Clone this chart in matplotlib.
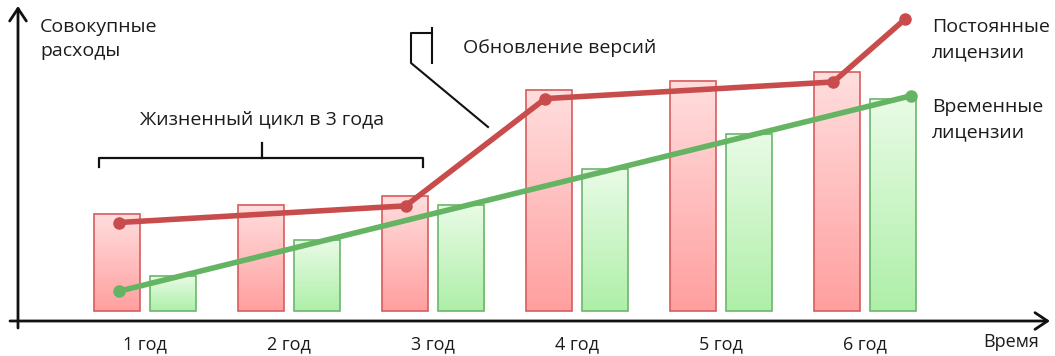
import numpy as np
import matplotlib.pyplot as plt
from matplotlib.colors import LinearSegmentedColormap
from matplotlib.patches import Rectangle

plt.rcParams['font.family'] = ['Open Sans', 'DejaVu Sans']

years = ['1 год', '2 год', '3 год', '4 год', '5 год', '6 год']
perpetual = [2.75, 3.0, 3.25, 6.25, 6.5, 6.75]
subscription = [1, 2, 3, 4, 5, 6]

# trend lines over the bars
perp_x = [-0.18, 1.81, 2.78, 4.78, 5.28]
perp_y = [2.5, 2.97, 6.0, 6.47, 8.25]
subs_x = [-0.18, 5.32]
subs_y = [0.56, 6.08]

W, H = 1055, 356
fig = plt.figure(figsize=(W / 100, H / 100), dpi=100)
ax = fig.add_axes([0, 0, 1, 1])
ax.axis('off')

TXT = '#1c1c1c'
bar_w = 46 / 144
shift = 28 / 144


def px(x, y):
    # pixel position -> axes fraction
    return (x / W, 1 - y / H)


def gradient_bar(xc, h, top, bottom, edge):
    cmap = LinearSegmentedColormap.from_list('grad', [bottom, top])
    grad = np.linspace(0, 1, 256).reshape(-1, 1)
    ax.imshow(grad, cmap=cmap, origin='lower', aspect='auto',
              extent=(xc - bar_w / 2, xc + bar_w / 2, 0, h), zorder=2)
    ax.add_patch(Rectangle((xc - bar_w / 2, 0), bar_w, h, fill=False,
                           edgecolor=edge, lw=1.2, zorder=3))


for i in range(len(years)):
    gradient_bar(i - shift, perpetual[i], '#ffdede', '#ff9f9f', '#d85c5c')
    gradient_bar(i + shift, subscription[i], '#e9fbe6', '#aeefa8', '#6cb66c')
    ax.text(i, -1.09, years[i], ha='center', va='baseline', fontsize=13, color=TXT)

ax.plot(perp_x, perp_y, color='#c94c4c', lw=4, marker='o', ms=8,
        solid_capstyle='round', zorder=5)
ax.plot(subs_x, subs_y, color='#64b464', lw=4, marker='o', ms=8,
        solid_capstyle='round', zorder=5)

ax.set_xlim(-145 / 144, (W - 145) / 144)
ax.set_ylim(-(H - 311) / 35.4, 311 / 35.4)

# axes with arrows
arrow = dict(arrowstyle='->,head_length=0.45,head_width=0.3', lw=2, color='#111111',
             mutation_scale=20, shrinkA=0, shrinkB=0)
ax.annotate('', xy=px(1050, 321), xytext=px(10, 321), xycoords='axes fraction',
            textcoords='axes fraction', arrowprops=arrow)
ax.annotate('', xy=px(18, 6), xytext=px(18, 328), xycoords='axes fraction',
            textcoords='axes fraction', arrowprops=arrow)

# brace over the first three years
bx = [99, 99, 423, 423]
by = [167, 158, 158, 167]
ax.plot([b / W for b in bx], [1 - b / H for b in by], color='#111111', lw=1.6,
        transform=ax.transAxes)
ax.plot([262 / W, 262 / W], [1 - 158 / H, 1 - 143 / H], color='#111111', lw=1.6,
        transform=ax.transAxes)

# callout leader
lx = [488, 411, 411, 432]
ly = [127, 63, 33, 33]
ax.plot([v / W for v in lx], [1 - v / H for v in ly], color='#111111', lw=1.5,
        transform=ax.transAxes)
ax.plot([432 / W, 432 / W], [1 - 28 / H, 1 - 63 / H], color='#111111', lw=1.5,
        transform=ax.transAxes)

fs = 14
labels = [
    ('Совокупные', 40, 32, 'left'),
    ('расходы', 40, 56, 'left'),
    ('Обновление версий', 463, 53, 'left'),
    ('Жизненный цикл в 3 года', 262, 124, 'center'),
    ('Постоянные', 932, 32, 'left'),
    ('лицензии', 932, 57, 'left'),
    ('Временные', 932, 112, 'left'),
    ('лицензии', 932, 137, 'left'),
]
for s, x, y, ha in labels:
    ax.text(*px(x, y), s, transform=ax.transAxes, ha=ha, va='baseline',
            fontsize=fs, color=TXT)
ax.text(*px(1011, 347), 'Время', transform=ax.transAxes, ha='center',
        va='baseline', fontsize=13, color=TXT)

fig.savefig('out.png', dpi=100)
